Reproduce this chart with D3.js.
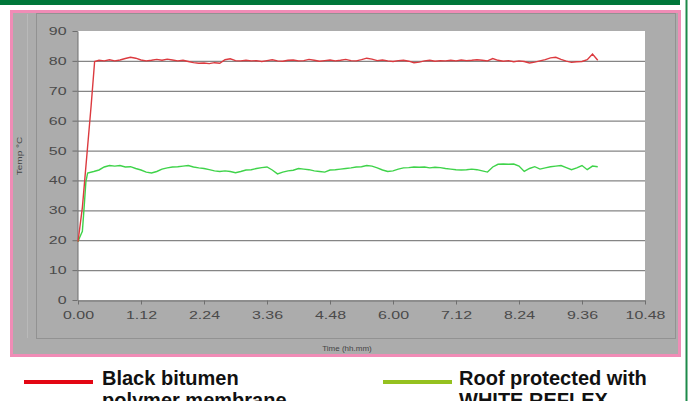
<!DOCTYPE html>
<html>
<head>
<meta charset="utf-8">
<script src="https://cdn.jsdelivr.net/npm/d3@7"></script>
<style>
  body { margin: 0; background: #fff; }
  svg { display: block; font-family: "Liberation Sans", Arial, sans-serif; }
  .axis path, .axis line { stroke: #6e6e6e; }
  .axis text { fill: #4a4a4a; font-size: 11px; }
</style>
</head>
<body>
<div id="chart"></div>
<script>
// Data (time in minutes, temperature in °C)
var redMinutes = [0, 5, 10, 15, 19,
  24, 30, 36, 42, 48, 54, 60, 66, 72, 78, 84, 90, 96, 102, 108, 114, 120, 126, 132, 138,
  144, 150, 156, 162, 168, 174, 180, 186, 192, 198, 204, 210, 216, 222, 228, 234, 240, 246,
  252, 258, 264, 270, 276, 282, 288, 294, 300, 306, 312, 318, 324, 330, 336, 342, 348, 354,
  360, 366, 372, 378, 384, 390, 396, 402, 408, 414, 420, 426, 432, 438, 444, 450, 456, 462,
  468, 474, 480, 486, 492, 498, 504, 510, 516, 522, 528, 534, 540, 546, 552, 558, 564, 570,
  576, 582, 588, 594];
var redTemp = [19.5, 31, 48, 65, 79.8,
  80.2, 80, 80.4, 80, 80.3, 80.8, 81.2, 80.9, 80.3, 80, 80.2, 80.5, 80.2, 80.6, 80.3, 80, 80.2, 79.8, 79.4, 79.2,
  79.3, 79.1, 79.4, 79.2, 80.4, 80.7, 80.1, 80, 80.2, 80, 80.1, 79.8, 80.1, 80.4, 80, 79.9, 80.2, 80.3,
  80, 80.1, 80.5, 80.2, 79.9, 80.1, 80.3, 80, 80.2, 80.5, 80.1, 80, 80.4, 80.9, 80.6, 80.1, 80.3, 80,
  79.8, 80.1, 80.2, 79.9, 79.4, 79.6, 80, 80.2, 79.9, 80.1, 80, 80.2, 80, 80.3, 80.1, 80.2, 80.4, 80.2,
  80, 80.8, 80.2, 79.9, 80.1, 79.7, 80, 79.8, 79.3, 79.6, 80, 80.4, 81, 81.2, 80.5, 79.9, 79.5, 79.7,
  79.8, 80.4, 82.3, 80.2];

var greenMinutes = [0, 2, 5, 7, 9, 11, 18,
  24, 30, 36, 42, 48, 54, 60, 66, 72, 78, 84, 90, 96, 102, 108, 114, 120, 126, 132, 138,
  144, 150, 156, 162, 168, 174, 180, 186, 192, 198, 204, 210, 216, 222, 228, 234, 240, 246,
  252, 258, 264, 270, 276, 282, 288, 294, 300, 306, 312, 318, 324, 330, 336, 342, 348, 354,
  360, 366, 372, 378, 384, 390, 396, 402, 408, 414, 420, 426, 432, 438, 444, 450, 456, 462,
  468, 474, 480, 486, 492, 498, 504, 510, 516, 522, 528, 534, 540, 546, 552, 558, 564, 570,
  576, 582, 588, 594];
var greenTemp = [19.5, 21, 23, 31, 39.5, 42.5, 43,
  43.5, 44.5, 45, 44.8, 45, 44.5, 44.6, 44, 43.5, 42.8, 42.5, 43, 43.8, 44.2, 44.5, 44.6, 44.8, 45, 44.5, 44.2,
  44, 43.6, 43.2, 43, 43.2, 43, 42.6, 43, 43.5, 43.6, 44, 44.3, 44.5, 43.5, 42.2, 42.8, 43.2, 43.4,
  44, 43.8, 43.6, 43.2, 43, 42.8, 43.5, 43.6, 43.8, 44, 44.2, 44.5, 44.6, 45, 44.8, 44.2, 43.5, 43,
  43.2, 43.8, 44.2, 44.3, 44.5, 44.4, 44.5, 44.2, 44.4, 44.3, 44, 43.8, 43.6, 43.5, 43.6, 43.8, 43.6, 43.2,
  42.8, 44.5, 45.4, 45.5, 45.4, 45.5, 44.8, 43, 44, 44.6, 43.8, 44.2, 44.6, 44.8, 45, 44.3, 43.6, 44.2,
  45, 43.6, 44.8, 44.6];

var xTicks = [0, 72, 144, 216, 288, 360, 432, 504, 576, 648];
var xTickLabels = ["0.00", "1.12", "2.24", "3.36", "4.48", "6.00", "7.12", "8.24", "9.36", "10.48"];
var yTicks = [0, 10, 20, 30, 40, 50, 60, 70, 80, 90];

var legendNames = [["Black bitumen", "polymer membrane"], ["Roof protected with", "WHITE REFLEX"]];
var legendColors = ["#e30613", "#95c11f"];
var lineColors = ["#dc3a3f", "#3fd34a"];

var W = 691, H = 401;
var plot = {left: 78, right: 645, top: 31, bottom: 300};

var svg = d3.select("#chart").append("svg")
  .attr("width", W)
  .attr("height", H);

// page decoration: green band and rule
svg.append("rect").attr("x", 0).attr("y", 0).attr("width", 680).attr("height", 5).attr("fill", "#00773a");
svg.append("rect").attr("x", 685.5).attr("y", 0).attr("width", 2).attr("height", H).attr("fill", "#1d8a4a");

// pink framed grey chart area
svg.append("rect")
  .attr("x", 11.5).attr("y", 11.5).attr("width", 668).attr("height", 344)
  .attr("fill", "#acacac")
  .attr("stroke", "#f08cb6").attr("stroke-width", 3);
svg.append("line").attr("x1", 27.5).attr("x2", 27.5).attr("y1", 14).attr("y2", 338)
  .attr("stroke", "#b9b9b9");
svg.append("rect")
  .attr("x", 36.5).attr("y", 13.5).attr("width", 639).attr("height", 325)
  .attr("fill", "none").attr("stroke", "#929292");

// white plot area
svg.append("rect")
  .attr("x", plot.left).attr("y", plot.top)
  .attr("width", plot.right - plot.left).attr("height", plot.bottom - plot.top)
  .attr("fill", "#fff");

var xScale = d3.scaleLinear().domain([0, 648]).range([plot.left, plot.right]);
var yScale = d3.scaleLinear().domain([0, 90]).range([plot.bottom, plot.top]);

// gridlines
svg.append("g")
  .selectAll("line")
  .data(yTicks.filter(function(d) { return d > 0 && d < 90; }))
  .enter().append("line")
  .attr("x1", plot.left).attr("x2", plot.right)
  .attr("y1", function(d) { return yScale(d) + 0.5; })
  .attr("y2", function(d) { return yScale(d) + 0.5; })
  .attr("stroke", "#858585").attr("stroke-width", 1.3);

// axes
var xAxis = d3.axisBottom(xScale)
  .tickValues(xTicks)
  .tickSize(4).tickSizeOuter(0)
  .tickFormat(function(d, i) { return xTickLabels[i]; });
var yAxis = d3.axisLeft(yScale)
  .tickValues(yTicks)
  .tickSize(5).tickSizeOuter(0);

var gx = svg.append("g")
  .attr("class", "x axis")
  .attr("transform", "translate(0," + (plot.bottom + 0.5) + ")")
  .call(xAxis);
gx.selectAll("text").attr("y", 11).attr("dy", "0.71em").attr("transform", "scale(1.45,1)");

var gy = svg.append("g")
  .attr("class", "y axis")
  .attr("transform", "translate(" + (plot.left - 0.5) + ",0)")
  .call(yAxis);
gy.selectAll("text").attr("x", -11 / 1.45).attr("transform", "scale(1.45,1)");

// series
var line = d3.line()
  .x(function(d) { return xScale(d[0]); })
  .y(function(d) { return yScale(d[1]); });

var series = [
  d3.zip(greenMinutes, greenTemp),
  d3.zip(redMinutes, redTemp)
];
svg.append("path").datum(series[0])
  .attr("d", line).attr("fill", "none")
  .attr("stroke", lineColors[1]).attr("stroke-width", 1.4);
svg.append("path").datum(series[1])
  .attr("d", line).attr("fill", "none")
  .attr("stroke", lineColors[0]).attr("stroke-width", 1.4);

// axis titles
svg.append("text")
  .attr("transform", "translate(22,156) rotate(-90) scale(1.25,1)")
  .attr("text-anchor", "middle")
  .style("font-size", "8px").attr("fill", "#444")
  .text("Temp °C");

svg.append("text")
  .attr("x", 347).attr("y", 351)
  .attr("text-anchor", "middle")
  .style("font-size", "8px").attr("fill", "#444")
  .text("Time (hh.mm)");

// legend
var legendX = [24, 383];
legendNames.forEach(function(names, i) {
  var g = svg.append("g").attr("transform", "translate(" + legendX[i] + ",0)");
  g.append("rect").attr("x", 0).attr("y", 380).attr("width", 69).attr("height", 4)
    .attr("fill", legendColors[i]);
  g.selectAll("text").data(names).enter().append("text")
    .attr("x", i === 0 ? 78 : 76)
    .attr("y", function(d, j) { return 385 + j * 22; })
    .style("font-size", "20px").style("font-weight", "bold")
    .attr("fill", "#111")
    .text(function(d) { return d; });
});
</script>
</body>
</html>
